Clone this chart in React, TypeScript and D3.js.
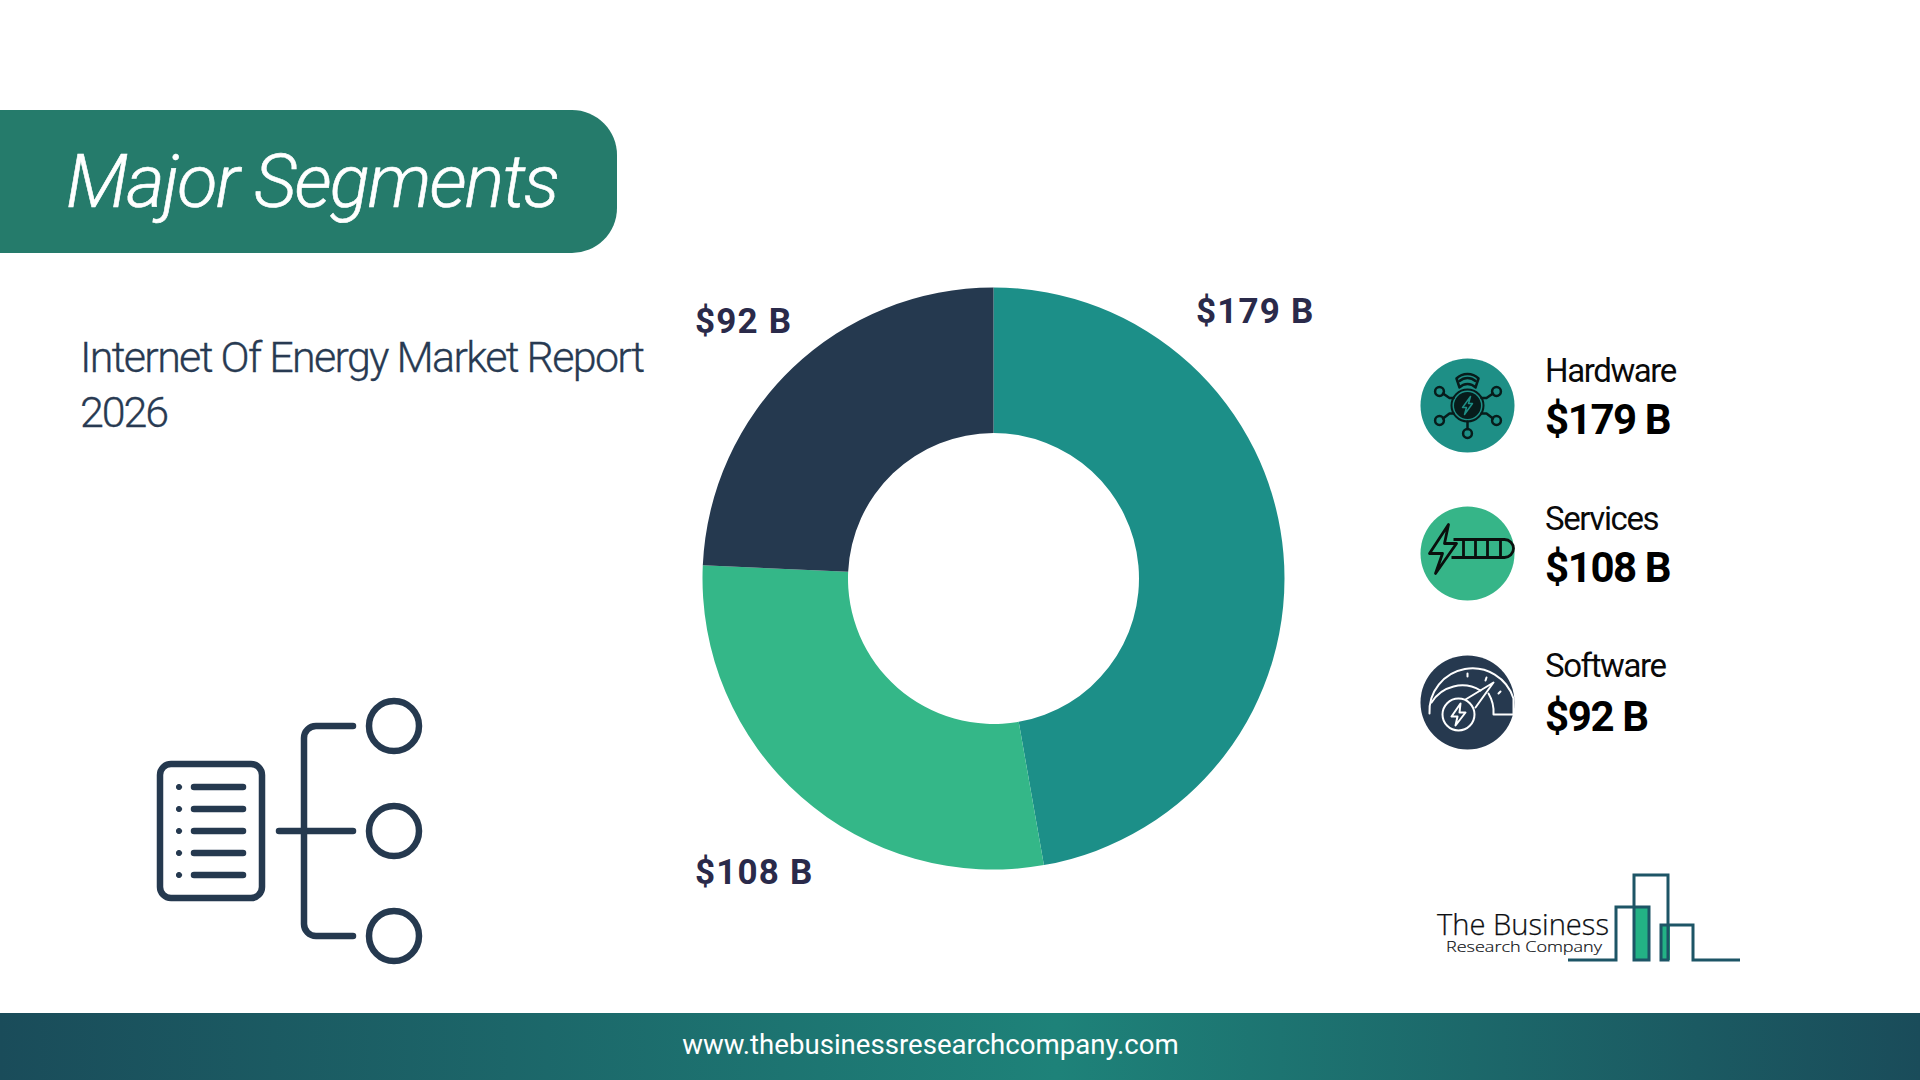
import React from "react";
import * as d3 from "d3";

const categories = ["Hardware", "Services", "Software"];
const values = [179, 108, 92];
const valueLabels = ["$179 B", "$108 B", "$92 B"];
const colors = ["#1c8f88", "#34b788", "#25394f"];
const iconColors = ["#1e8f86", "#36b588", "#26394f"];
const NAVY = "#25394f";

const font = "Roboto, sans-serif";

const cx = 993.5, cy = 578.5, R = 291, r = 145.5;
const pie = d3.pie<number>().sort(null)(values);
const arc = d3.arc<d3.PieArcDatum<number>>().innerRadius(r).outerRadius(R);

const donutLabelPos = [
  { x: 1196, y: 323 },
  { x: 695, y: 884 },
  { x: 695, y: 333 },
];
const legendY = [405.5, 553.5, 702.5];
const nameY = [382, 530, 677];
const amountY = [434, 582, 731];

function HardwareIcon() {
  const k = "#071c1b";
  const nodes = [[-28, -14], [29, -14], [-28, 15], [29, 15], [0, 28]];
  return (
    <g>
      <g fill="none" stroke={k} strokeWidth={2.5} strokeLinecap="round" strokeLinejoin="round">
        <path d="M-24.5,-12 L-18,-7.5 L-14,-7.5" />
        <path d="M25.5,-12 L19,-7.5 L14,-7.5" />
        <path d="M-24.5,13 L-18,8 L-14,8" />
        <path d="M25.5,13 L19,8 L14,8" />
        <path d="M0,23.5 L0,16" />
        <path d="M-8,-18 L-11,-27 A16,16 0 0 1 11,-27 L8,-18 A11,11 0 0 0 -8,-18 Z" />
        <path d="M-8,-24.5 A12,12 0 0 1 8,-24.5" />
      </g>
      <circle r={13.5} fill={k} />
      <circle r={16} fill="none" stroke={k} strokeWidth={2} />
      <path d="M3,-9 L-5,2 L-1,2 L-3,9 L5,-2 L1,-2 Z" fill="none" stroke="#1e8f86" strokeWidth={1.5} strokeLinejoin="round" />
      <g fill="none" stroke={k} strokeWidth={2.5}>
        {nodes.map(([x, y], i) => (
          <circle key={i} cx={x} cy={y} r={4.4} />
        ))}
      </g>
    </g>
  );
}

function ServicesIcon() {
  const k = "#0a0f0d";
  return (
    <g fill="none" stroke={k} strokeWidth={2.8} strokeLinejoin="round">
      <path d="M-19,-29 L-38,0 L-25,0 L-32,20 L-11,-10 L-23,-10 Z" />
      <path d="M-14,-14 L37,-14 A9,9 0 0 1 37,4 L-16,4 M-4,-14 L-4,4 M8,-14 L8,4 M20,-14 L20,4 M33,-14 L33,4" />
    </g>
  );
}

function SoftwareIcon() {
  return (
    <g fill="none" stroke="#fff" strokeWidth={2} strokeLinejoin="round" strokeLinecap="round">
      <path d="M-38,11 A43,43 0 0 1 46,-4 L46,12 L26,12 A36,36 0 0 0 21,-9" />
      <path d="M-36,0 A36,36 0 0 1 13,-12" />
      <path d="M0,-29 L0,-26 M19,-25 L18,-22 M33,-11 L31,-9" />
      <circle cx={-9} cy={12} r={16} />
      <path d="M-2,-3 L26,-20 L8,5" />
      <path d="M-7,1 L-16,14 L-10,14 L-12,23 L-2,10 L-8,10 Z" />
    </g>
  );
}

const icons = [HardwareIcon, ServicesIcon, SoftwareIcon];

function Logo() {
  const teal = "#1d5566";
  return (
    <g>
      <rect x={1634} y={907} width={15} height={53} fill="#23b285" />
      <rect x={1662} y={926} width={8} height={34} fill="#23b285" />
      <g fill="none" stroke={teal} strokeWidth={3}>
        <path d="M1568,960 L1616,960 L1616,907 L1649,907 L1649,960 L1634,960 L1634,875 L1668,875 L1668,960 L1661,960 L1661,925 L1693,925 L1693,960 L1740,960" />
      </g>
      <text x={1437} y={935} fontFamily="'Open Sans', sans-serif" fontWeight={300} fontSize={29} fill="#0c0e12" stroke="#0c0e12" strokeWidth={0.25} textLength={172} lengthAdjust="spacingAndGlyphs">The Business</text>
      <text x={1446} y={952} fontFamily="'Open Sans', sans-serif" fontWeight={300} fontSize={15} fill="#0c0e12" stroke="#0c0e12" strokeWidth={0.2} textLength={156} lengthAdjust="spacingAndGlyphs">Research Company</text>
    </g>
  );
}

function DocIcon() {
  const rows = [787, 809, 831, 853, 875];
  return (
    <g fill="none" stroke={NAVY} strokeLinecap="round" strokeWidth={6.5}>
      <rect x={160} y={764} width={102} height={134} rx={11} />
      {rows.map((y) => (
        <g key={y}>
          <circle cx={179} cy={y} r={2.6} fill={NAVY} stroke={NAVY} strokeWidth={1} />
          <line x1={194} x2={243} y1={y} y2={y} />
        </g>
      ))}
      <path d="M279,831 L353,831" />
      <path d="M353,726 L316,726 A12,12 0 0 0 304,738 L304,924 A12,12 0 0 0 316,936 L353,936" />
      {[726, 831, 936].map((y) => <circle key={y} cx={394} cy={y} r={25} />)}
    </g>
  );
}

export default function App() {
  return (
    <svg width={1920} height={1080} style={{ position: "absolute", left: 0, top: 0, background: "#fff" }}>
      <defs>
        <linearGradient id="foot" x1="0" x2="1" y1="0" y2="0">
          <stop offset="0" stopColor="#1a4c5a" />
          <stop offset="0.55" stopColor="#1e8279" />
          <stop offset="1" stopColor="#1a4c5a" />
        </linearGradient>
      </defs>
      <path d="M0,110 L572,110 A45,45 0 0 1 617,155 L617,208 A45,45 0 0 1 572,253 L0,253 Z" fill="#257b6b" />
      <text x={66} y={206.5} fontFamily={font} fontStyle="italic" fontWeight={300} fontSize={74} fill="#fff" stroke="#fff" strokeWidth={0.6} textLength={494} lengthAdjust="spacing">Major Segments</text>
      <text x={80} y={372} fontFamily={font} fontWeight={300} fontSize={43} fill="#283a52" stroke="#283a52" strokeWidth={0.3} textLength={565} lengthAdjust="spacing">Internet Of Energy Market Report</text>
      <text x={80} y={427} fontFamily={font} fontWeight={300} fontSize={43} fill="#283a52" stroke="#283a52" strokeWidth={0.3} textLength={89} lengthAdjust="spacing">2026</text>

      <g transform={`translate(${cx},${cy})`}>
        {pie.map((d, i) => <path key={i} d={arc(d) ?? ""} fill={colors[i]} />)}
      </g>
      {valueLabels.map((t, i) => (
        <text key={i} x={donutLabelPos[i].x} y={donutLabelPos[i].y} fontFamily={font} fontWeight={700} fontSize={35} letterSpacing={1.2} fill="#2a2a4a">{t}</text>
      ))}

      {categories.map((c, i) => {
        const Icon = icons[i];
        return (
          <g key={c}>
            <circle cx={1467.5} cy={legendY[i]} r={47} fill={iconColors[i]} />
            <g transform={`translate(1467.5,${legendY[i]})`}><Icon /></g>
            <text x={1545} y={nameY[i]} fontFamily={font} fontWeight={400} fontSize={33} letterSpacing={-1.4} fill="#0a0a0a">{c}</text>
            <text x={1545} y={amountY[i]} fontFamily={font} fontWeight={700} fontSize={42} letterSpacing={-1.4} fill="#000">{valueLabels[i]}</text>
          </g>
        );
      })}

      <DocIcon />
      <Logo />
      <rect x={0} y={1013} width={1920} height={67} fill="url(#foot)" />
      <text x={930.5} y={1054} textAnchor="middle" fontFamily={font} fontWeight={400} fontSize={27.6} fill="#fff">www.thebusinessresearchcompany.com</text>
    </svg>
  );
}
